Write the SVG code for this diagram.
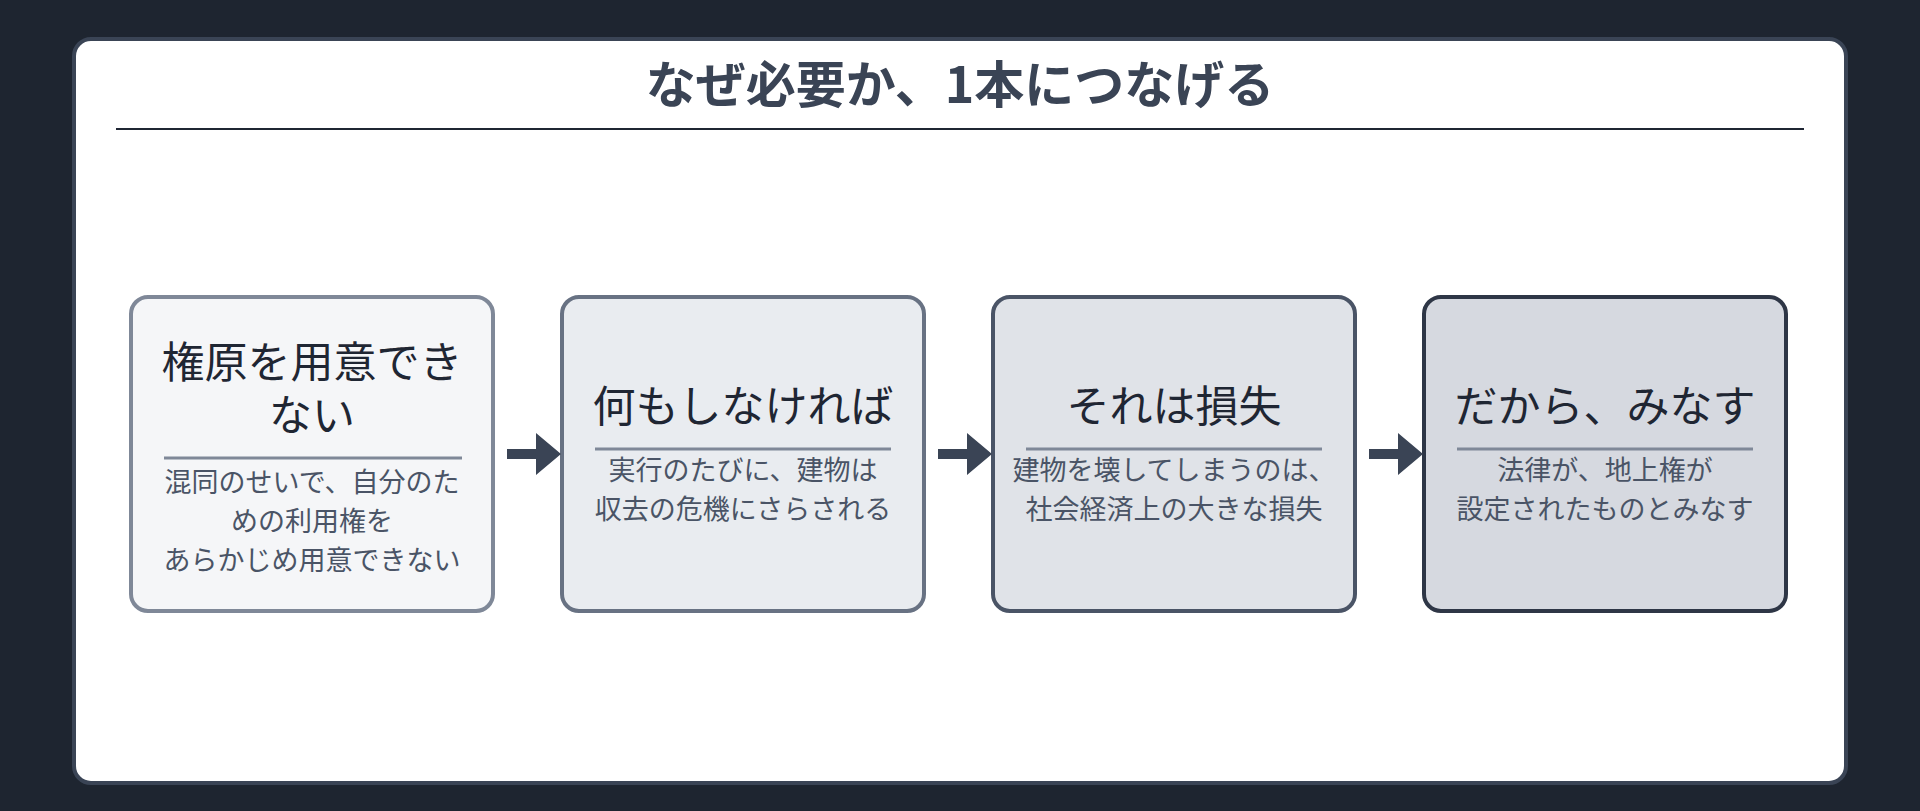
<svg xmlns="http://www.w3.org/2000/svg" width="1920" height="811" viewBox="0 0 1920 811">
<style>
.t{font-family:"Noto Sans CJK JP","Noto Sans",sans-serif;text-anchor:middle}
.h{font-size:43px;fill:#1f2633}
.s{font-size:27px;fill:#4a5466}
.div{stroke:#7f8898;stroke-width:3}
</style>
<defs><path id="arr" d="M0,-5 H29 V-21 L54,0 L29,21 V5 H0 Z" fill="#3a4455"/></defs>
<rect width="1920" height="811" fill="#1e2530"/>
<rect x="74" y="39" width="1772" height="744" rx="17" fill="#fff" stroke="#3a4455" stroke-width="4"/>
<text class="t" x="960" y="103" font-size="50" font-weight="bold" fill="#3a4455">なぜ必要か、1本につなげる</text>
<line x1="116" y1="129" x2="1804" y2="129" stroke="#1f2633" stroke-width="2"/>
<g id="n1"><rect x="131" y="297" width="362" height="314" rx="17" fill="#f5f6f8" stroke="#7f8898" stroke-width="4"/>
<text class="t h" x="312" y="378">権原を用意でき</text><text class="t h" x="312" y="431">ない</text>
<line class="div" x1="164" y1="458" x2="462" y2="458"/>
<text class="t s" x="312" y="492">混同のせいで、自分のた</text><text class="t s" x="312" y="531">めの利用権を</text><text class="t s" x="312" y="570">あらかじめ用意できない</text></g>
<g id="n2"><rect x="562" y="297" width="362" height="314" rx="17" fill="#e9ecf0" stroke="#687283" stroke-width="4"/>
<text class="t h" x="743" y="422">何もしなければ</text>
<line class="div" x1="595" y1="449" x2="891" y2="449"/>
<text class="t s" x="743" y="480">実行のたびに、建物は</text><text class="t s" x="743" y="519">収去の危機にさらされる</text></g>
<g id="n3"><rect x="993" y="297" width="362" height="314" rx="17" fill="#e0e3e8" stroke="#4a5466" stroke-width="4"/>
<text class="t h" x="1174" y="422">それは損失</text>
<line class="div" x1="1026" y1="449" x2="1322" y2="449"/>
<text class="t s" x="1174" y="480">建物を壊してしまうのは、</text><text class="t s" x="1174" y="519">社会経済上の大きな損失</text></g>
<g id="n4"><rect x="1424" y="297" width="362" height="314" rx="17" fill="#d6d9e0" stroke="#2e3646" stroke-width="4"/>
<text class="t h" x="1605" y="422">だから、みなす</text>
<line class="div" x1="1457" y1="449" x2="1753" y2="449"/>
<text class="t s" x="1605" y="480">法律が、地上権が</text><text class="t s" x="1605" y="519">設定されたものとみなす</text></g>
<g id="connectors">
<use href="#arr" x="507" y="454"/><use href="#arr" x="938" y="454"/><use href="#arr" x="1369" y="454"/>
</g>
</svg>
